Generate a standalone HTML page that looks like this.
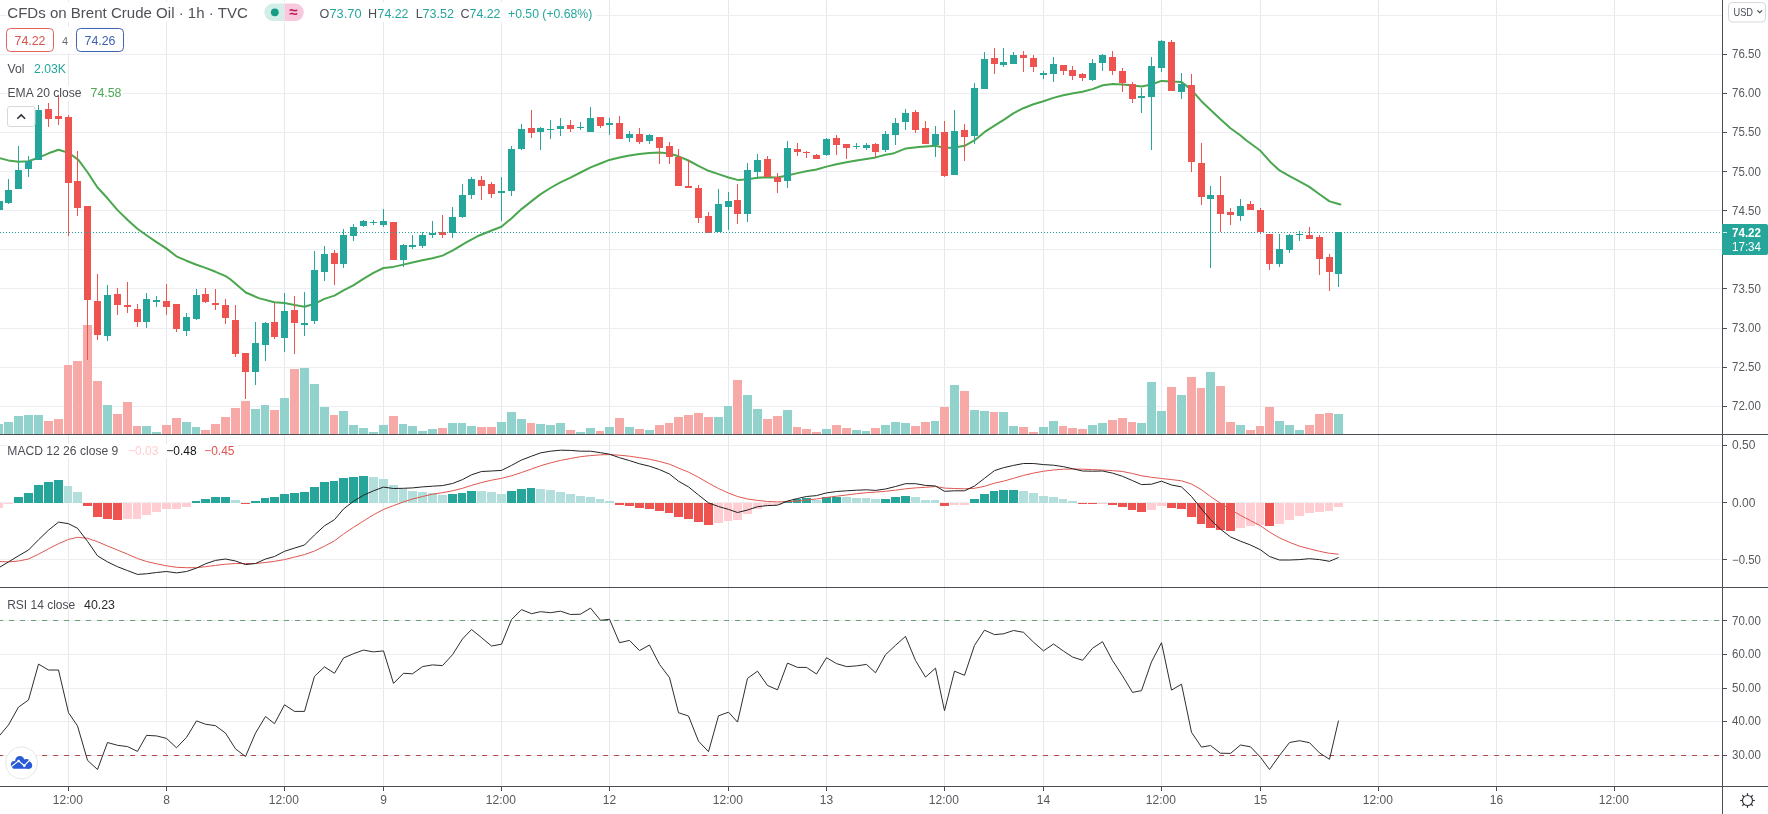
<!DOCTYPE html>
<html><head><meta charset="utf-8"><title>CFDs on Brent Crude Oil</title>
<style>html,body{margin:0;padding:0;background:#fff;width:1768px;height:814px;overflow:hidden}
svg{display:block;will-change:transform;font-family:"Liberation Sans",sans-serif}
rect{shape-rendering:crispEdges} rect[rx]{shape-rendering:geometricPrecision}</style></head>
<body><svg width="1768" height="814" viewBox="0 0 1768 814">
<rect x="0" y="0" width="1768" height="814" fill="#ffffff"/>
<rect x="68.00" y="0.00" width="1.00" height="786.00" fill="#e5e9ef"/>
<rect x="166.00" y="0.00" width="1.00" height="786.00" fill="#e5e9ef"/>
<rect x="284.00" y="0.00" width="1.00" height="786.00" fill="#e5e9ef"/>
<rect x="383.00" y="0.00" width="1.00" height="786.00" fill="#e5e9ef"/>
<rect x="501.00" y="0.00" width="1.00" height="786.00" fill="#e5e9ef"/>
<rect x="609.00" y="0.00" width="1.00" height="786.00" fill="#e5e9ef"/>
<rect x="728.00" y="0.00" width="1.00" height="786.00" fill="#e5e9ef"/>
<rect x="826.00" y="0.00" width="1.00" height="786.00" fill="#e5e9ef"/>
<rect x="944.00" y="0.00" width="1.00" height="786.00" fill="#e5e9ef"/>
<rect x="1043.00" y="0.00" width="1.00" height="786.00" fill="#e5e9ef"/>
<rect x="1161.00" y="0.00" width="1.00" height="786.00" fill="#e5e9ef"/>
<rect x="1260.00" y="0.00" width="1.00" height="786.00" fill="#e5e9ef"/>
<rect x="1378.00" y="0.00" width="1.00" height="786.00" fill="#e5e9ef"/>
<rect x="1496.00" y="0.00" width="1.00" height="786.00" fill="#e5e9ef"/>
<rect x="1614.00" y="0.00" width="1.00" height="786.00" fill="#e5e9ef"/>
<rect x="0.00" y="15.00" width="1722.00" height="1.00" fill="#edeef1"/>
<rect x="0.00" y="54.00" width="1722.00" height="1.00" fill="#edeef1"/>
<rect x="0.00" y="93.00" width="1722.00" height="1.00" fill="#edeef1"/>
<rect x="0.00" y="132.00" width="1722.00" height="1.00" fill="#edeef1"/>
<rect x="0.00" y="171.00" width="1722.00" height="1.00" fill="#edeef1"/>
<rect x="0.00" y="210.00" width="1722.00" height="1.00" fill="#edeef1"/>
<rect x="0.00" y="249.00" width="1722.00" height="1.00" fill="#edeef1"/>
<rect x="0.00" y="288.00" width="1722.00" height="1.00" fill="#edeef1"/>
<rect x="0.00" y="328.00" width="1722.00" height="1.00" fill="#edeef1"/>
<rect x="0.00" y="367.00" width="1722.00" height="1.00" fill="#edeef1"/>
<rect x="0.00" y="406.00" width="1722.00" height="1.00" fill="#edeef1"/>
<rect x="0.00" y="445.00" width="1722.00" height="1.00" fill="#edeef1"/>
<rect x="0.00" y="502.00" width="1722.00" height="1.00" fill="#edeef1"/>
<rect x="0.00" y="559.00" width="1722.00" height="1.00" fill="#edeef1"/>
<rect x="0.00" y="620.00" width="1722.00" height="1.00" fill="#edeef1"/>
<rect x="0.00" y="654.00" width="1722.00" height="1.00" fill="#edeef1"/>
<rect x="0.00" y="688.00" width="1722.00" height="1.00" fill="#edeef1"/>
<rect x="0.00" y="721.00" width="1722.00" height="1.00" fill="#edeef1"/>
<rect x="0.00" y="755.00" width="1722.00" height="1.00" fill="#edeef1"/>
<rect x="7.00" y="2.00" width="589.00" height="20.00" fill="#fff"/>
<rect x="6.00" y="27.00" width="119.00" height="26.00" fill="#fff"/>
<rect x="7.00" y="86.00" width="116.00" height="15.00" fill="#fff"/>
<rect x="7.00" y="444.00" width="231.00" height="14.00" fill="#fff"/>
<rect x="-5.00" y="423.50" width="8.00" height="10.50" fill="#92d2cc"/>
<rect x="4.00" y="422.00" width="9.00" height="12.00" fill="#92d2cc"/>
<rect x="14.00" y="416.00" width="9.00" height="18.00" fill="#92d2cc"/>
<rect x="24.00" y="414.50" width="9.00" height="19.50" fill="#92d2cc"/>
<rect x="34.00" y="414.50" width="9.00" height="19.50" fill="#92d2cc"/>
<rect x="44.00" y="421.00" width="9.00" height="13.00" fill="#f7a9a7"/>
<rect x="54.00" y="418.50" width="9.00" height="15.50" fill="#f7a9a7"/>
<rect x="64.00" y="364.50" width="8.00" height="69.50" fill="#f7a9a7"/>
<rect x="73.00" y="360.50" width="9.00" height="73.50" fill="#f7a9a7"/>
<rect x="83.00" y="324.50" width="9.00" height="109.50" fill="#f7a9a7"/>
<rect x="93.00" y="380.50" width="9.00" height="53.50" fill="#f7a9a7"/>
<rect x="103.00" y="404.50" width="9.00" height="29.50" fill="#92d2cc"/>
<rect x="113.00" y="413.50" width="9.00" height="20.50" fill="#f7a9a7"/>
<rect x="123.00" y="401.50" width="9.00" height="32.50" fill="#f7a9a7"/>
<rect x="133.00" y="425.50" width="8.00" height="8.50" fill="#f7a9a7"/>
<rect x="142.00" y="425.50" width="9.00" height="8.50" fill="#92d2cc"/>
<rect x="152.00" y="431.70" width="9.00" height="2.30" fill="#92d2cc"/>
<rect x="162.00" y="424.70" width="9.00" height="9.30" fill="#f7a9a7"/>
<rect x="172.00" y="417.50" width="9.00" height="16.50" fill="#f7a9a7"/>
<rect x="182.00" y="422.40" width="9.00" height="11.60" fill="#92d2cc"/>
<rect x="192.00" y="426.50" width="8.00" height="7.50" fill="#92d2cc"/>
<rect x="201.00" y="430.40" width="9.00" height="3.60" fill="#f7a9a7"/>
<rect x="211.00" y="424.40" width="9.00" height="9.60" fill="#f7a9a7"/>
<rect x="221.00" y="417.00" width="9.00" height="17.00" fill="#f7a9a7"/>
<rect x="231.00" y="408.00" width="9.00" height="26.00" fill="#f7a9a7"/>
<rect x="241.00" y="401.00" width="9.00" height="33.00" fill="#f7a9a7"/>
<rect x="251.00" y="409.00" width="9.00" height="25.00" fill="#92d2cc"/>
<rect x="261.00" y="405.00" width="8.00" height="29.00" fill="#92d2cc"/>
<rect x="270.00" y="410.00" width="9.00" height="24.00" fill="#f7a9a7"/>
<rect x="280.00" y="398.00" width="9.00" height="36.00" fill="#92d2cc"/>
<rect x="290.00" y="369.00" width="9.00" height="65.00" fill="#f7a9a7"/>
<rect x="300.00" y="368.00" width="9.00" height="66.00" fill="#92d2cc"/>
<rect x="310.00" y="384.00" width="9.00" height="50.00" fill="#92d2cc"/>
<rect x="320.00" y="407.00" width="9.00" height="27.00" fill="#92d2cc"/>
<rect x="330.00" y="415.00" width="8.00" height="19.00" fill="#f7a9a7"/>
<rect x="339.00" y="411.00" width="9.00" height="23.00" fill="#92d2cc"/>
<rect x="349.00" y="425.00" width="9.00" height="9.00" fill="#92d2cc"/>
<rect x="359.00" y="428.00" width="9.00" height="6.00" fill="#92d2cc"/>
<rect x="369.00" y="432.00" width="9.00" height="2.00" fill="#92d2cc"/>
<rect x="379.00" y="425.00" width="9.00" height="9.00" fill="#92d2cc"/>
<rect x="389.00" y="416.00" width="9.00" height="18.00" fill="#f7a9a7"/>
<rect x="399.00" y="424.00" width="8.00" height="10.00" fill="#92d2cc"/>
<rect x="408.00" y="426.00" width="9.00" height="8.00" fill="#92d2cc"/>
<rect x="418.00" y="431.00" width="9.00" height="3.00" fill="#92d2cc"/>
<rect x="428.00" y="429.00" width="9.00" height="5.00" fill="#92d2cc"/>
<rect x="438.00" y="428.00" width="9.00" height="6.00" fill="#f7a9a7"/>
<rect x="448.00" y="423.00" width="9.00" height="11.00" fill="#92d2cc"/>
<rect x="458.00" y="423.00" width="8.00" height="11.00" fill="#92d2cc"/>
<rect x="467.00" y="426.00" width="9.00" height="8.00" fill="#92d2cc"/>
<rect x="477.00" y="427.00" width="9.00" height="7.00" fill="#f7a9a7"/>
<rect x="487.00" y="427.00" width="9.00" height="7.00" fill="#f7a9a7"/>
<rect x="497.00" y="422.00" width="9.00" height="12.00" fill="#92d2cc"/>
<rect x="507.00" y="412.00" width="9.00" height="22.00" fill="#92d2cc"/>
<rect x="517.00" y="419.00" width="9.00" height="15.00" fill="#92d2cc"/>
<rect x="527.00" y="423.00" width="8.00" height="11.00" fill="#f7a9a7"/>
<rect x="536.00" y="424.00" width="9.00" height="10.00" fill="#92d2cc"/>
<rect x="546.00" y="425.00" width="9.00" height="9.00" fill="#92d2cc"/>
<rect x="556.00" y="423.00" width="9.00" height="11.00" fill="#92d2cc"/>
<rect x="566.00" y="430.00" width="9.00" height="4.00" fill="#f7a9a7"/>
<rect x="576.00" y="432.00" width="9.00" height="2.00" fill="#92d2cc"/>
<rect x="586.00" y="428.00" width="9.00" height="6.00" fill="#92d2cc"/>
<rect x="596.00" y="431.00" width="8.00" height="3.00" fill="#f7a9a7"/>
<rect x="605.00" y="427.00" width="9.00" height="7.00" fill="#92d2cc"/>
<rect x="615.00" y="418.00" width="9.00" height="16.00" fill="#f7a9a7"/>
<rect x="625.00" y="427.00" width="9.00" height="7.00" fill="#92d2cc"/>
<rect x="635.00" y="429.00" width="9.00" height="5.00" fill="#f7a9a7"/>
<rect x="645.00" y="430.00" width="9.00" height="4.00" fill="#92d2cc"/>
<rect x="655.00" y="425.00" width="9.00" height="9.00" fill="#f7a9a7"/>
<rect x="665.00" y="423.00" width="8.00" height="11.00" fill="#f7a9a7"/>
<rect x="674.00" y="417.00" width="9.00" height="17.00" fill="#f7a9a7"/>
<rect x="684.00" y="415.00" width="9.00" height="19.00" fill="#f7a9a7"/>
<rect x="694.00" y="413.00" width="9.00" height="21.00" fill="#f7a9a7"/>
<rect x="704.00" y="417.00" width="9.00" height="17.00" fill="#f7a9a7"/>
<rect x="714.00" y="417.00" width="9.00" height="17.00" fill="#92d2cc"/>
<rect x="724.00" y="406.00" width="8.00" height="28.00" fill="#92d2cc"/>
<rect x="733.00" y="380.00" width="9.00" height="54.00" fill="#f7a9a7"/>
<rect x="743.00" y="395.00" width="9.00" height="39.00" fill="#92d2cc"/>
<rect x="753.00" y="409.00" width="9.00" height="25.00" fill="#92d2cc"/>
<rect x="763.00" y="419.00" width="9.00" height="15.00" fill="#f7a9a7"/>
<rect x="773.00" y="416.00" width="9.00" height="18.00" fill="#f7a9a7"/>
<rect x="783.00" y="410.00" width="9.00" height="24.00" fill="#92d2cc"/>
<rect x="793.00" y="427.00" width="8.00" height="7.00" fill="#f7a9a7"/>
<rect x="802.00" y="429.00" width="9.00" height="5.00" fill="#f7a9a7"/>
<rect x="812.00" y="432.00" width="9.00" height="2.00" fill="#f7a9a7"/>
<rect x="822.00" y="429.00" width="9.00" height="5.00" fill="#92d2cc"/>
<rect x="832.00" y="425.00" width="9.00" height="9.00" fill="#f7a9a7"/>
<rect x="842.00" y="428.00" width="9.00" height="6.00" fill="#f7a9a7"/>
<rect x="852.00" y="430.00" width="9.00" height="4.00" fill="#92d2cc"/>
<rect x="862.00" y="431.00" width="8.00" height="3.00" fill="#92d2cc"/>
<rect x="871.00" y="428.00" width="9.00" height="6.00" fill="#f7a9a7"/>
<rect x="881.00" y="425.00" width="9.00" height="9.00" fill="#92d2cc"/>
<rect x="891.00" y="422.00" width="9.00" height="12.00" fill="#92d2cc"/>
<rect x="901.00" y="423.00" width="9.00" height="11.00" fill="#92d2cc"/>
<rect x="911.00" y="426.00" width="9.00" height="8.00" fill="#f7a9a7"/>
<rect x="921.00" y="422.00" width="9.00" height="12.00" fill="#f7a9a7"/>
<rect x="931.00" y="421.00" width="8.00" height="13.00" fill="#92d2cc"/>
<rect x="940.00" y="407.00" width="9.00" height="27.00" fill="#f7a9a7"/>
<rect x="950.00" y="385.00" width="9.00" height="49.00" fill="#92d2cc"/>
<rect x="960.00" y="391.00" width="9.00" height="43.00" fill="#f7a9a7"/>
<rect x="970.00" y="410.00" width="9.00" height="24.00" fill="#92d2cc"/>
<rect x="980.00" y="411.00" width="9.00" height="23.00" fill="#92d2cc"/>
<rect x="990.00" y="412.00" width="8.00" height="22.00" fill="#f7a9a7"/>
<rect x="999.00" y="412.00" width="9.00" height="22.00" fill="#92d2cc"/>
<rect x="1009.00" y="426.00" width="9.00" height="8.00" fill="#92d2cc"/>
<rect x="1019.00" y="427.00" width="9.00" height="7.00" fill="#f7a9a7"/>
<rect x="1029.00" y="432.00" width="9.00" height="2.00" fill="#f7a9a7"/>
<rect x="1039.00" y="427.00" width="9.00" height="7.00" fill="#92d2cc"/>
<rect x="1049.00" y="421.00" width="9.00" height="13.00" fill="#92d2cc"/>
<rect x="1059.00" y="426.00" width="8.00" height="8.00" fill="#f7a9a7"/>
<rect x="1068.00" y="428.00" width="9.00" height="6.00" fill="#f7a9a7"/>
<rect x="1078.00" y="429.00" width="9.00" height="5.00" fill="#f7a9a7"/>
<rect x="1088.00" y="425.00" width="9.00" height="9.00" fill="#92d2cc"/>
<rect x="1098.00" y="423.00" width="9.00" height="11.00" fill="#92d2cc"/>
<rect x="1108.00" y="420.00" width="9.00" height="14.00" fill="#f7a9a7"/>
<rect x="1118.00" y="418.00" width="9.00" height="16.00" fill="#f7a9a7"/>
<rect x="1128.00" y="422.00" width="8.00" height="12.00" fill="#f7a9a7"/>
<rect x="1137.00" y="423.00" width="9.00" height="11.00" fill="#92d2cc"/>
<rect x="1147.00" y="382.00" width="9.00" height="52.00" fill="#92d2cc"/>
<rect x="1157.00" y="411.00" width="9.00" height="23.00" fill="#92d2cc"/>
<rect x="1167.00" y="387.00" width="9.00" height="47.00" fill="#f7a9a7"/>
<rect x="1177.00" y="395.00" width="9.00" height="39.00" fill="#92d2cc"/>
<rect x="1187.00" y="377.00" width="9.00" height="57.00" fill="#f7a9a7"/>
<rect x="1197.00" y="388.00" width="8.00" height="46.00" fill="#f7a9a7"/>
<rect x="1206.00" y="372.00" width="9.00" height="62.00" fill="#92d2cc"/>
<rect x="1216.00" y="386.00" width="9.00" height="48.00" fill="#f7a9a7"/>
<rect x="1226.00" y="422.00" width="9.00" height="12.00" fill="#f7a9a7"/>
<rect x="1236.00" y="425.00" width="9.00" height="9.00" fill="#92d2cc"/>
<rect x="1246.00" y="430.00" width="9.00" height="4.00" fill="#f7a9a7"/>
<rect x="1256.00" y="426.00" width="8.00" height="8.00" fill="#f7a9a7"/>
<rect x="1265.00" y="407.00" width="9.00" height="27.00" fill="#f7a9a7"/>
<rect x="1275.00" y="421.00" width="9.00" height="13.00" fill="#92d2cc"/>
<rect x="1285.00" y="425.00" width="9.00" height="9.00" fill="#92d2cc"/>
<rect x="1295.00" y="430.00" width="9.00" height="4.00" fill="#92d2cc"/>
<rect x="1305.00" y="425.00" width="9.00" height="9.00" fill="#f7a9a7"/>
<rect x="1315.00" y="414.00" width="9.00" height="20.00" fill="#f7a9a7"/>
<rect x="1325.00" y="413.00" width="8.00" height="21.00" fill="#f7a9a7"/>
<rect x="1334.00" y="414.00" width="9.00" height="20.00" fill="#92d2cc"/>
<polyline fill="none" stroke="#4aa74e" stroke-width="2" stroke-linejoin="round" stroke-linecap="round" points="-2.1,157.6 8.3,160.4 18.6,161.8 28.5,161.2 38.4,157.6 48.6,153.3 58.5,149.7 68.5,152.7 78.4,159.9 87.7,172.5 97.5,187.5 107.5,198.3 117.3,209.9 127.4,219.7 137.4,228.7 146.5,235.2 156.5,242.1 166.6,248.6 176.4,256.3 186.4,260.7 196.5,264.8 205.5,267.9 215.6,271.8 225.6,276.2 230.0,279.0 245.8,292.5 258.7,298.1 274.4,302.3 284.5,303.0 294.5,305.1 304.6,306.7 314.4,303.8 324.4,298.9 334.5,295.6 343.5,290.4 353.3,285.3 363.4,278.8 373.4,272.9 383.5,268.0 393.3,266.9 403.3,264.6 412.4,262.6 422.4,260.2 432.5,258.2 442.5,255.6 452.9,250.4 465.8,242.7 478.7,235.7 491.6,230.5 501.4,226.7 511.4,218.4 521.5,209.1 531.3,201.4 540.3,194.4 550.4,188.0 560.4,182.3 570.5,177.7 580.5,172.5 590.6,167.4 600.4,163.5 609.4,159.9 619.5,157.6 629.5,155.5 639.6,154.0 649.4,152.9 659.4,152.4 669.3,153.5 678.6,156.3 688.4,160.5 698.4,165.9 708.5,170.8 718.5,174.1 728.6,177.5 738.4,180.1 747.7,179.3 757.5,177.7 767.5,177.2 777.3,177.5 787.4,175.4 797.4,173.1 807.5,171.0 816.5,169.5 826.6,166.6 836.4,164.3 846.4,162.3 856.5,160.5 866.3,158.9 875.6,157.4 885.6,154.8 892.9,153.6 905.8,148.4 918.7,146.9 935.4,145.8 944.5,147.9 954.5,147.4 964.6,145.8 974.4,140.4 984.4,132.2 994.5,125.7 1004.5,119.3 1013.3,113.3 1023.4,108.2 1033.4,104.3 1043.5,101.2 1053.3,97.9 1063.3,95.3 1073.4,93.2 1082.4,91.7 1092.5,89.1 1102.9,85.2 1112.7,84.0 1122.5,84.5 1132.5,85.5 1141.6,86.5 1151.4,84.5 1161.4,80.9 1171.5,81.4 1181.3,81.9 1191.3,89.6 1201.4,101.2 1210.4,109.7 1220.5,119.3 1230.5,128.3 1240.6,135.5 1245.8,140.0 1260.5,150.8 1270.3,161.9 1279.5,170.4 1289.6,176.1 1299.4,181.3 1309.4,186.9 1319.5,194.2 1329.6,201.4 1336.0,203.2 1340.4,204.5"/>
<rect x="-1.00" y="201.00" width="1.00" height="9.00" fill="#26a69a"/>
<rect x="-4.00" y="201.00" width="7.00" height="9.00" fill="#26a69a"/>
<rect x="8.00" y="179.00" width="1.00" height="25.00" fill="#26a69a"/>
<rect x="5.00" y="190.00" width="7.00" height="13.00" fill="#26a69a"/>
<rect x="18.00" y="146.00" width="1.00" height="43.00" fill="#26a69a"/>
<rect x="15.00" y="170.00" width="7.00" height="19.00" fill="#26a69a"/>
<rect x="28.00" y="156.00" width="1.00" height="21.00" fill="#26a69a"/>
<rect x="25.00" y="161.00" width="7.00" height="8.00" fill="#26a69a"/>
<rect x="38.00" y="105.00" width="1.00" height="55.00" fill="#26a69a"/>
<rect x="35.00" y="110.00" width="7.00" height="50.00" fill="#26a69a"/>
<rect x="48.00" y="103.00" width="1.00" height="24.00" fill="#ef5350"/>
<rect x="45.00" y="109.00" width="7.00" height="10.00" fill="#ef5350"/>
<rect x="58.00" y="96.00" width="1.00" height="29.00" fill="#ef5350"/>
<rect x="55.00" y="116.00" width="7.00" height="3.00" fill="#ef5350"/>
<rect x="68.00" y="115.00" width="1.00" height="121.00" fill="#ef5350"/>
<rect x="65.00" y="117.00" width="7.00" height="66.00" fill="#ef5350"/>
<rect x="77.00" y="151.00" width="1.00" height="65.00" fill="#ef5350"/>
<rect x="74.00" y="181.00" width="7.00" height="27.00" fill="#ef5350"/>
<rect x="87.00" y="206.00" width="1.00" height="154.00" fill="#ef5350"/>
<rect x="84.00" y="206.00" width="7.00" height="94.00" fill="#ef5350"/>
<rect x="97.00" y="274.00" width="1.00" height="66.00" fill="#ef5350"/>
<rect x="94.00" y="301.00" width="7.00" height="34.00" fill="#ef5350"/>
<rect x="107.00" y="285.00" width="1.00" height="56.00" fill="#26a69a"/>
<rect x="104.00" y="295.00" width="7.00" height="41.00" fill="#26a69a"/>
<rect x="117.00" y="288.00" width="1.00" height="27.00" fill="#ef5350"/>
<rect x="114.00" y="294.00" width="7.00" height="11.00" fill="#ef5350"/>
<rect x="127.00" y="282.00" width="1.00" height="31.00" fill="#ef5350"/>
<rect x="124.00" y="305.00" width="7.00" height="2.00" fill="#ef5350"/>
<rect x="137.00" y="304.00" width="1.00" height="23.00" fill="#ef5350"/>
<rect x="134.00" y="309.00" width="7.00" height="13.00" fill="#ef5350"/>
<rect x="146.00" y="293.00" width="1.00" height="35.00" fill="#26a69a"/>
<rect x="143.00" y="299.00" width="7.00" height="23.00" fill="#26a69a"/>
<rect x="156.00" y="296.00" width="1.00" height="11.00" fill="#26a69a"/>
<rect x="153.00" y="300.00" width="7.00" height="2.00" fill="#26a69a"/>
<rect x="166.00" y="284.00" width="1.00" height="31.00" fill="#ef5350"/>
<rect x="163.00" y="301.00" width="7.00" height="6.00" fill="#ef5350"/>
<rect x="176.00" y="304.00" width="1.00" height="28.00" fill="#ef5350"/>
<rect x="173.00" y="304.00" width="7.00" height="25.00" fill="#ef5350"/>
<rect x="186.00" y="313.00" width="1.00" height="23.00" fill="#26a69a"/>
<rect x="183.00" y="317.00" width="7.00" height="14.00" fill="#26a69a"/>
<rect x="196.00" y="289.00" width="1.00" height="31.00" fill="#26a69a"/>
<rect x="193.00" y="295.00" width="7.00" height="24.00" fill="#26a69a"/>
<rect x="205.00" y="288.00" width="1.00" height="15.00" fill="#ef5350"/>
<rect x="202.00" y="294.00" width="7.00" height="8.00" fill="#ef5350"/>
<rect x="215.00" y="289.00" width="1.00" height="21.00" fill="#ef5350"/>
<rect x="212.00" y="303.00" width="7.00" height="2.00" fill="#ef5350"/>
<rect x="225.00" y="299.00" width="1.00" height="25.00" fill="#ef5350"/>
<rect x="222.00" y="305.00" width="7.00" height="13.00" fill="#ef5350"/>
<rect x="235.00" y="305.00" width="1.00" height="52.00" fill="#ef5350"/>
<rect x="232.00" y="320.00" width="7.00" height="34.00" fill="#ef5350"/>
<rect x="245.00" y="353.00" width="1.00" height="46.00" fill="#ef5350"/>
<rect x="242.00" y="353.00" width="7.00" height="19.00" fill="#ef5350"/>
<rect x="255.00" y="322.00" width="1.00" height="63.00" fill="#26a69a"/>
<rect x="252.00" y="343.00" width="7.00" height="29.00" fill="#26a69a"/>
<rect x="265.00" y="322.00" width="1.00" height="39.00" fill="#26a69a"/>
<rect x="262.00" y="323.00" width="7.00" height="22.00" fill="#26a69a"/>
<rect x="274.00" y="303.00" width="1.00" height="36.00" fill="#ef5350"/>
<rect x="271.00" y="322.00" width="7.00" height="15.00" fill="#ef5350"/>
<rect x="284.00" y="293.00" width="1.00" height="59.00" fill="#26a69a"/>
<rect x="281.00" y="311.00" width="7.00" height="27.00" fill="#26a69a"/>
<rect x="294.00" y="296.00" width="1.00" height="58.00" fill="#ef5350"/>
<rect x="291.00" y="310.00" width="7.00" height="13.00" fill="#ef5350"/>
<rect x="304.00" y="292.00" width="1.00" height="44.00" fill="#26a69a"/>
<rect x="301.00" y="323.00" width="7.00" height="2.00" fill="#26a69a"/>
<rect x="314.00" y="251.00" width="1.00" height="73.00" fill="#26a69a"/>
<rect x="311.00" y="270.00" width="7.00" height="51.00" fill="#26a69a"/>
<rect x="324.00" y="246.00" width="1.00" height="35.00" fill="#26a69a"/>
<rect x="321.00" y="254.00" width="7.00" height="18.00" fill="#26a69a"/>
<rect x="334.00" y="250.00" width="1.00" height="35.00" fill="#ef5350"/>
<rect x="331.00" y="253.00" width="7.00" height="11.00" fill="#ef5350"/>
<rect x="343.00" y="229.00" width="1.00" height="39.00" fill="#26a69a"/>
<rect x="340.00" y="235.00" width="7.00" height="29.00" fill="#26a69a"/>
<rect x="353.00" y="224.00" width="1.00" height="17.00" fill="#26a69a"/>
<rect x="350.00" y="227.00" width="7.00" height="9.00" fill="#26a69a"/>
<rect x="363.00" y="220.00" width="1.00" height="7.00" fill="#26a69a"/>
<rect x="360.00" y="221.00" width="7.00" height="5.00" fill="#26a69a"/>
<rect x="373.00" y="220.00" width="1.00" height="5.00" fill="#26a69a"/>
<rect x="370.00" y="222.00" width="7.00" height="1.00" fill="#26a69a"/>
<rect x="383.00" y="209.00" width="1.00" height="18.00" fill="#26a69a"/>
<rect x="380.00" y="221.00" width="7.00" height="4.00" fill="#26a69a"/>
<rect x="393.00" y="222.00" width="1.00" height="38.00" fill="#ef5350"/>
<rect x="390.00" y="222.00" width="7.00" height="38.00" fill="#ef5350"/>
<rect x="403.00" y="244.00" width="1.00" height="23.00" fill="#26a69a"/>
<rect x="400.00" y="245.00" width="7.00" height="15.00" fill="#26a69a"/>
<rect x="412.00" y="235.00" width="1.00" height="14.00" fill="#26a69a"/>
<rect x="409.00" y="245.00" width="7.00" height="2.00" fill="#26a69a"/>
<rect x="422.00" y="232.00" width="1.00" height="16.00" fill="#26a69a"/>
<rect x="419.00" y="235.00" width="7.00" height="11.00" fill="#26a69a"/>
<rect x="432.00" y="221.00" width="1.00" height="17.00" fill="#26a69a"/>
<rect x="429.00" y="233.00" width="7.00" height="2.00" fill="#26a69a"/>
<rect x="442.00" y="215.00" width="1.00" height="23.00" fill="#ef5350"/>
<rect x="439.00" y="232.00" width="7.00" height="3.00" fill="#ef5350"/>
<rect x="452.00" y="207.00" width="1.00" height="31.00" fill="#26a69a"/>
<rect x="449.00" y="217.00" width="7.00" height="16.00" fill="#26a69a"/>
<rect x="462.00" y="184.00" width="1.00" height="34.00" fill="#26a69a"/>
<rect x="459.00" y="195.00" width="7.00" height="22.00" fill="#26a69a"/>
<rect x="471.00" y="177.00" width="1.00" height="22.00" fill="#26a69a"/>
<rect x="468.00" y="179.00" width="7.00" height="16.00" fill="#26a69a"/>
<rect x="481.00" y="176.00" width="1.00" height="24.00" fill="#ef5350"/>
<rect x="478.00" y="180.00" width="7.00" height="6.00" fill="#ef5350"/>
<rect x="491.00" y="182.00" width="1.00" height="16.00" fill="#ef5350"/>
<rect x="488.00" y="184.00" width="7.00" height="10.00" fill="#ef5350"/>
<rect x="501.00" y="177.00" width="1.00" height="44.00" fill="#26a69a"/>
<rect x="498.00" y="191.00" width="7.00" height="2.00" fill="#26a69a"/>
<rect x="511.00" y="146.00" width="1.00" height="50.00" fill="#26a69a"/>
<rect x="508.00" y="149.00" width="7.00" height="42.00" fill="#26a69a"/>
<rect x="521.00" y="124.00" width="1.00" height="26.00" fill="#26a69a"/>
<rect x="518.00" y="129.00" width="7.00" height="20.00" fill="#26a69a"/>
<rect x="531.00" y="110.00" width="1.00" height="28.00" fill="#ef5350"/>
<rect x="528.00" y="128.00" width="7.00" height="5.00" fill="#ef5350"/>
<rect x="540.00" y="127.00" width="1.00" height="23.00" fill="#26a69a"/>
<rect x="537.00" y="128.00" width="7.00" height="4.00" fill="#26a69a"/>
<rect x="550.00" y="120.00" width="1.00" height="19.00" fill="#26a69a"/>
<rect x="547.00" y="129.00" width="7.00" height="1.00" fill="#26a69a"/>
<rect x="560.00" y="118.00" width="1.00" height="18.00" fill="#26a69a"/>
<rect x="557.00" y="126.00" width="7.00" height="3.00" fill="#26a69a"/>
<rect x="570.00" y="120.00" width="1.00" height="12.00" fill="#ef5350"/>
<rect x="567.00" y="125.00" width="7.00" height="4.00" fill="#ef5350"/>
<rect x="580.00" y="122.00" width="1.00" height="8.00" fill="#26a69a"/>
<rect x="577.00" y="127.00" width="7.00" height="1.00" fill="#26a69a"/>
<rect x="590.00" y="107.00" width="1.00" height="25.00" fill="#26a69a"/>
<rect x="587.00" y="118.00" width="7.00" height="14.00" fill="#26a69a"/>
<rect x="600.00" y="117.00" width="1.00" height="11.00" fill="#ef5350"/>
<rect x="597.00" y="117.00" width="7.00" height="9.00" fill="#ef5350"/>
<rect x="609.00" y="118.00" width="1.00" height="17.00" fill="#26a69a"/>
<rect x="606.00" y="123.00" width="7.00" height="2.00" fill="#26a69a"/>
<rect x="619.00" y="116.00" width="1.00" height="23.00" fill="#ef5350"/>
<rect x="616.00" y="123.00" width="7.00" height="16.00" fill="#ef5350"/>
<rect x="629.00" y="131.00" width="1.00" height="11.00" fill="#26a69a"/>
<rect x="626.00" y="134.00" width="7.00" height="4.00" fill="#26a69a"/>
<rect x="639.00" y="128.00" width="1.00" height="16.00" fill="#ef5350"/>
<rect x="636.00" y="134.00" width="7.00" height="8.00" fill="#ef5350"/>
<rect x="649.00" y="134.00" width="1.00" height="10.00" fill="#26a69a"/>
<rect x="646.00" y="135.00" width="7.00" height="6.00" fill="#26a69a"/>
<rect x="659.00" y="137.00" width="1.00" height="27.00" fill="#ef5350"/>
<rect x="656.00" y="137.00" width="7.00" height="11.00" fill="#ef5350"/>
<rect x="669.00" y="142.00" width="1.00" height="22.00" fill="#ef5350"/>
<rect x="666.00" y="146.00" width="7.00" height="11.00" fill="#ef5350"/>
<rect x="678.00" y="149.00" width="1.00" height="37.00" fill="#ef5350"/>
<rect x="675.00" y="157.00" width="7.00" height="29.00" fill="#ef5350"/>
<rect x="688.00" y="160.00" width="1.00" height="28.00" fill="#ef5350"/>
<rect x="685.00" y="186.00" width="7.00" height="2.00" fill="#ef5350"/>
<rect x="698.00" y="185.00" width="1.00" height="38.00" fill="#ef5350"/>
<rect x="695.00" y="188.00" width="7.00" height="30.00" fill="#ef5350"/>
<rect x="708.00" y="212.00" width="1.00" height="21.00" fill="#ef5350"/>
<rect x="705.00" y="216.00" width="7.00" height="17.00" fill="#ef5350"/>
<rect x="718.00" y="189.00" width="1.00" height="43.00" fill="#26a69a"/>
<rect x="715.00" y="204.00" width="7.00" height="28.00" fill="#26a69a"/>
<rect x="728.00" y="192.00" width="1.00" height="38.00" fill="#26a69a"/>
<rect x="725.00" y="201.00" width="7.00" height="6.00" fill="#26a69a"/>
<rect x="737.00" y="184.00" width="1.00" height="40.00" fill="#ef5350"/>
<rect x="734.00" y="200.00" width="7.00" height="14.00" fill="#ef5350"/>
<rect x="747.00" y="163.00" width="1.00" height="59.00" fill="#26a69a"/>
<rect x="744.00" y="170.00" width="7.00" height="44.00" fill="#26a69a"/>
<rect x="757.00" y="154.00" width="1.00" height="25.00" fill="#26a69a"/>
<rect x="754.00" y="160.00" width="7.00" height="12.00" fill="#26a69a"/>
<rect x="767.00" y="156.00" width="1.00" height="21.00" fill="#ef5350"/>
<rect x="764.00" y="159.00" width="7.00" height="18.00" fill="#ef5350"/>
<rect x="777.00" y="173.00" width="1.00" height="20.00" fill="#ef5350"/>
<rect x="774.00" y="177.00" width="7.00" height="5.00" fill="#ef5350"/>
<rect x="787.00" y="141.00" width="1.00" height="47.00" fill="#26a69a"/>
<rect x="784.00" y="148.00" width="7.00" height="33.00" fill="#26a69a"/>
<rect x="797.00" y="143.00" width="1.00" height="13.00" fill="#ef5350"/>
<rect x="794.00" y="149.00" width="7.00" height="3.00" fill="#ef5350"/>
<rect x="806.00" y="151.00" width="1.00" height="7.00" fill="#ef5350"/>
<rect x="803.00" y="152.00" width="7.00" height="1.00" fill="#ef5350"/>
<rect x="816.00" y="154.00" width="1.00" height="5.00" fill="#ef5350"/>
<rect x="813.00" y="155.00" width="7.00" height="4.00" fill="#ef5350"/>
<rect x="826.00" y="138.00" width="1.00" height="18.00" fill="#26a69a"/>
<rect x="823.00" y="139.00" width="7.00" height="16.00" fill="#26a69a"/>
<rect x="836.00" y="135.00" width="1.00" height="20.00" fill="#ef5350"/>
<rect x="833.00" y="138.00" width="7.00" height="7.00" fill="#ef5350"/>
<rect x="846.00" y="144.00" width="1.00" height="15.00" fill="#ef5350"/>
<rect x="843.00" y="144.00" width="7.00" height="4.00" fill="#ef5350"/>
<rect x="856.00" y="143.00" width="1.00" height="6.00" fill="#26a69a"/>
<rect x="853.00" y="146.00" width="7.00" height="1.00" fill="#26a69a"/>
<rect x="866.00" y="143.00" width="1.00" height="7.00" fill="#26a69a"/>
<rect x="863.00" y="145.00" width="7.00" height="3.00" fill="#26a69a"/>
<rect x="875.00" y="143.00" width="1.00" height="14.00" fill="#ef5350"/>
<rect x="872.00" y="144.00" width="7.00" height="8.00" fill="#ef5350"/>
<rect x="885.00" y="131.00" width="1.00" height="21.00" fill="#26a69a"/>
<rect x="882.00" y="134.00" width="7.00" height="16.00" fill="#26a69a"/>
<rect x="895.00" y="118.00" width="1.00" height="27.00" fill="#26a69a"/>
<rect x="892.00" y="123.00" width="7.00" height="12.00" fill="#26a69a"/>
<rect x="905.00" y="109.00" width="1.00" height="21.00" fill="#26a69a"/>
<rect x="902.00" y="113.00" width="7.00" height="9.00" fill="#26a69a"/>
<rect x="915.00" y="110.00" width="1.00" height="23.00" fill="#ef5350"/>
<rect x="912.00" y="112.00" width="7.00" height="18.00" fill="#ef5350"/>
<rect x="925.00" y="121.00" width="1.00" height="23.00" fill="#ef5350"/>
<rect x="922.00" y="128.00" width="7.00" height="16.00" fill="#ef5350"/>
<rect x="935.00" y="126.00" width="1.00" height="31.00" fill="#26a69a"/>
<rect x="932.00" y="134.00" width="7.00" height="11.00" fill="#26a69a"/>
<rect x="944.00" y="121.00" width="1.00" height="56.00" fill="#ef5350"/>
<rect x="941.00" y="132.00" width="7.00" height="44.00" fill="#ef5350"/>
<rect x="954.00" y="110.00" width="1.00" height="65.00" fill="#26a69a"/>
<rect x="951.00" y="131.00" width="7.00" height="44.00" fill="#26a69a"/>
<rect x="964.00" y="124.00" width="1.00" height="37.00" fill="#ef5350"/>
<rect x="961.00" y="130.00" width="7.00" height="7.00" fill="#ef5350"/>
<rect x="974.00" y="83.00" width="1.00" height="61.00" fill="#26a69a"/>
<rect x="971.00" y="88.00" width="7.00" height="48.00" fill="#26a69a"/>
<rect x="984.00" y="52.00" width="1.00" height="37.00" fill="#26a69a"/>
<rect x="981.00" y="59.00" width="7.00" height="30.00" fill="#26a69a"/>
<rect x="994.00" y="48.00" width="1.00" height="26.00" fill="#ef5350"/>
<rect x="991.00" y="58.00" width="7.00" height="6.00" fill="#ef5350"/>
<rect x="1003.00" y="48.00" width="1.00" height="19.00" fill="#26a69a"/>
<rect x="1000.00" y="62.00" width="7.00" height="3.00" fill="#26a69a"/>
<rect x="1013.00" y="52.00" width="1.00" height="12.00" fill="#26a69a"/>
<rect x="1010.00" y="55.00" width="7.00" height="9.00" fill="#26a69a"/>
<rect x="1023.00" y="51.00" width="1.00" height="21.00" fill="#ef5350"/>
<rect x="1020.00" y="55.00" width="7.00" height="3.00" fill="#ef5350"/>
<rect x="1033.00" y="55.00" width="1.00" height="17.00" fill="#ef5350"/>
<rect x="1030.00" y="58.00" width="7.00" height="9.00" fill="#ef5350"/>
<rect x="1043.00" y="71.00" width="1.00" height="8.00" fill="#26a69a"/>
<rect x="1040.00" y="73.00" width="7.00" height="2.00" fill="#26a69a"/>
<rect x="1053.00" y="57.00" width="1.00" height="25.00" fill="#26a69a"/>
<rect x="1050.00" y="64.00" width="7.00" height="10.00" fill="#26a69a"/>
<rect x="1063.00" y="65.00" width="1.00" height="10.00" fill="#ef5350"/>
<rect x="1060.00" y="65.00" width="7.00" height="6.00" fill="#ef5350"/>
<rect x="1072.00" y="66.00" width="1.00" height="14.00" fill="#ef5350"/>
<rect x="1069.00" y="70.00" width="7.00" height="6.00" fill="#ef5350"/>
<rect x="1082.00" y="73.00" width="1.00" height="8.00" fill="#ef5350"/>
<rect x="1079.00" y="74.00" width="7.00" height="4.00" fill="#ef5350"/>
<rect x="1092.00" y="59.00" width="1.00" height="22.00" fill="#26a69a"/>
<rect x="1089.00" y="63.00" width="7.00" height="17.00" fill="#26a69a"/>
<rect x="1102.00" y="54.00" width="1.00" height="17.00" fill="#26a69a"/>
<rect x="1099.00" y="55.00" width="7.00" height="8.00" fill="#26a69a"/>
<rect x="1112.00" y="51.00" width="1.00" height="24.00" fill="#ef5350"/>
<rect x="1109.00" y="57.00" width="7.00" height="14.00" fill="#ef5350"/>
<rect x="1122.00" y="68.00" width="1.00" height="24.00" fill="#ef5350"/>
<rect x="1119.00" y="71.00" width="7.00" height="12.00" fill="#ef5350"/>
<rect x="1132.00" y="82.00" width="1.00" height="21.00" fill="#ef5350"/>
<rect x="1129.00" y="84.00" width="7.00" height="15.00" fill="#ef5350"/>
<rect x="1141.00" y="88.00" width="1.00" height="25.00" fill="#26a69a"/>
<rect x="1138.00" y="96.00" width="7.00" height="2.00" fill="#26a69a"/>
<rect x="1151.00" y="57.00" width="1.00" height="93.00" fill="#26a69a"/>
<rect x="1148.00" y="66.00" width="7.00" height="31.00" fill="#26a69a"/>
<rect x="1161.00" y="40.00" width="1.00" height="32.00" fill="#26a69a"/>
<rect x="1158.00" y="41.00" width="7.00" height="27.00" fill="#26a69a"/>
<rect x="1171.00" y="40.00" width="1.00" height="51.00" fill="#ef5350"/>
<rect x="1168.00" y="42.00" width="7.00" height="49.00" fill="#ef5350"/>
<rect x="1181.00" y="73.00" width="1.00" height="26.00" fill="#26a69a"/>
<rect x="1178.00" y="84.00" width="7.00" height="8.00" fill="#26a69a"/>
<rect x="1191.00" y="74.00" width="1.00" height="98.00" fill="#ef5350"/>
<rect x="1188.00" y="85.00" width="7.00" height="77.00" fill="#ef5350"/>
<rect x="1201.00" y="143.00" width="1.00" height="62.00" fill="#ef5350"/>
<rect x="1198.00" y="163.00" width="7.00" height="34.00" fill="#ef5350"/>
<rect x="1210.00" y="186.00" width="1.00" height="82.00" fill="#26a69a"/>
<rect x="1207.00" y="195.00" width="7.00" height="4.00" fill="#26a69a"/>
<rect x="1220.00" y="176.00" width="1.00" height="56.00" fill="#ef5350"/>
<rect x="1217.00" y="195.00" width="7.00" height="19.00" fill="#ef5350"/>
<rect x="1230.00" y="208.00" width="1.00" height="17.00" fill="#ef5350"/>
<rect x="1227.00" y="212.00" width="7.00" height="3.00" fill="#ef5350"/>
<rect x="1240.00" y="199.00" width="1.00" height="22.00" fill="#26a69a"/>
<rect x="1237.00" y="206.00" width="7.00" height="10.00" fill="#26a69a"/>
<rect x="1250.00" y="201.00" width="1.00" height="9.00" fill="#ef5350"/>
<rect x="1247.00" y="204.00" width="7.00" height="6.00" fill="#ef5350"/>
<rect x="1260.00" y="208.00" width="1.00" height="26.00" fill="#ef5350"/>
<rect x="1257.00" y="210.00" width="7.00" height="22.00" fill="#ef5350"/>
<rect x="1269.00" y="234.00" width="1.00" height="36.00" fill="#ef5350"/>
<rect x="1266.00" y="234.00" width="7.00" height="30.00" fill="#ef5350"/>
<rect x="1279.00" y="234.00" width="1.00" height="33.00" fill="#26a69a"/>
<rect x="1276.00" y="249.00" width="7.00" height="15.00" fill="#26a69a"/>
<rect x="1289.00" y="234.00" width="1.00" height="19.00" fill="#26a69a"/>
<rect x="1286.00" y="235.00" width="7.00" height="15.00" fill="#26a69a"/>
<rect x="1299.00" y="231.00" width="1.00" height="10.00" fill="#26a69a"/>
<rect x="1296.00" y="234.00" width="7.00" height="1.00" fill="#26a69a"/>
<rect x="1309.00" y="227.00" width="1.00" height="12.00" fill="#ef5350"/>
<rect x="1306.00" y="235.00" width="7.00" height="4.00" fill="#ef5350"/>
<rect x="1319.00" y="235.00" width="1.00" height="40.00" fill="#ef5350"/>
<rect x="1316.00" y="237.00" width="7.00" height="22.00" fill="#ef5350"/>
<rect x="1329.00" y="254.00" width="1.00" height="37.00" fill="#ef5350"/>
<rect x="1326.00" y="257.00" width="7.00" height="15.00" fill="#ef5350"/>
<rect x="1338.00" y="232.00" width="1.00" height="55.00" fill="#26a69a"/>
<rect x="1335.00" y="232.00" width="7.00" height="42.00" fill="#26a69a"/>
<line x1="0" y1="232.5" x2="1722" y2="232.5" stroke="#26a69a" stroke-width="1" stroke-dasharray="1 2"/>
<rect x="-5.00" y="503.00" width="8.00" height="5.00" fill="#ffcdd2"/>
<rect x="4.00" y="503.00" width="9.00" height="1.00" fill="#ffcdd2"/>
<rect x="14.00" y="497.00" width="9.00" height="6.00" fill="#26a69a"/>
<rect x="24.00" y="493.00" width="9.00" height="10.00" fill="#26a69a"/>
<rect x="34.00" y="485.00" width="9.00" height="18.00" fill="#26a69a"/>
<rect x="44.00" y="482.00" width="9.00" height="21.00" fill="#26a69a"/>
<rect x="54.00" y="480.00" width="9.00" height="23.00" fill="#26a69a"/>
<rect x="64.00" y="486.00" width="8.00" height="17.00" fill="#b2dfdb"/>
<rect x="73.00" y="492.00" width="9.00" height="11.00" fill="#b2dfdb"/>
<rect x="83.00" y="503.00" width="9.00" height="3.00" fill="#ef5350"/>
<rect x="93.00" y="503.00" width="9.00" height="14.00" fill="#ef5350"/>
<rect x="103.00" y="503.00" width="9.00" height="16.00" fill="#ef5350"/>
<rect x="113.00" y="503.00" width="9.00" height="17.00" fill="#ef5350"/>
<rect x="123.00" y="503.00" width="9.00" height="16.00" fill="#ffcdd2"/>
<rect x="133.00" y="503.00" width="8.00" height="16.00" fill="#ffcdd2"/>
<rect x="142.00" y="503.00" width="9.00" height="12.00" fill="#ffcdd2"/>
<rect x="152.00" y="503.00" width="9.00" height="9.00" fill="#ffcdd2"/>
<rect x="162.00" y="503.00" width="9.00" height="6.00" fill="#ffcdd2"/>
<rect x="172.00" y="503.00" width="9.00" height="6.00" fill="#ffcdd2"/>
<rect x="182.00" y="503.00" width="9.00" height="4.00" fill="#ffcdd2"/>
<rect x="192.00" y="501.00" width="8.00" height="2.00" fill="#26a69a"/>
<rect x="201.00" y="499.00" width="9.00" height="4.00" fill="#26a69a"/>
<rect x="211.00" y="497.00" width="9.00" height="6.00" fill="#26a69a"/>
<rect x="221.00" y="497.00" width="9.00" height="6.00" fill="#26a69a"/>
<rect x="231.00" y="500.00" width="9.00" height="3.00" fill="#b2dfdb"/>
<rect x="241.00" y="503.00" width="9.00" height="1.00" fill="#ef5350"/>
<rect x="251.00" y="501.00" width="9.00" height="2.00" fill="#26a69a"/>
<rect x="261.00" y="498.00" width="8.00" height="5.00" fill="#26a69a"/>
<rect x="270.00" y="497.00" width="9.00" height="6.00" fill="#26a69a"/>
<rect x="280.00" y="494.00" width="9.00" height="9.00" fill="#26a69a"/>
<rect x="290.00" y="493.00" width="9.00" height="10.00" fill="#26a69a"/>
<rect x="300.00" y="492.00" width="9.00" height="11.00" fill="#26a69a"/>
<rect x="310.00" y="487.00" width="9.00" height="16.00" fill="#26a69a"/>
<rect x="320.00" y="482.00" width="9.00" height="21.00" fill="#26a69a"/>
<rect x="330.00" y="481.00" width="8.00" height="22.00" fill="#26a69a"/>
<rect x="339.00" y="478.00" width="9.00" height="25.00" fill="#26a69a"/>
<rect x="349.00" y="477.00" width="9.00" height="26.00" fill="#26a69a"/>
<rect x="359.00" y="476.00" width="9.00" height="27.00" fill="#26a69a"/>
<rect x="369.00" y="477.00" width="9.00" height="26.00" fill="#b2dfdb"/>
<rect x="379.00" y="479.00" width="9.00" height="24.00" fill="#b2dfdb"/>
<rect x="389.00" y="485.00" width="9.00" height="18.00" fill="#b2dfdb"/>
<rect x="399.00" y="489.00" width="8.00" height="14.00" fill="#b2dfdb"/>
<rect x="408.00" y="491.00" width="9.00" height="12.00" fill="#b2dfdb"/>
<rect x="418.00" y="492.00" width="9.00" height="11.00" fill="#b2dfdb"/>
<rect x="428.00" y="493.00" width="9.00" height="10.00" fill="#b2dfdb"/>
<rect x="438.00" y="495.00" width="9.00" height="8.00" fill="#b2dfdb"/>
<rect x="448.00" y="494.00" width="9.00" height="9.00" fill="#26a69a"/>
<rect x="458.00" y="493.00" width="8.00" height="10.00" fill="#26a69a"/>
<rect x="467.00" y="491.00" width="9.00" height="12.00" fill="#26a69a"/>
<rect x="477.00" y="491.00" width="9.00" height="12.00" fill="#b2dfdb"/>
<rect x="487.00" y="492.00" width="9.00" height="11.00" fill="#b2dfdb"/>
<rect x="497.00" y="494.00" width="9.00" height="9.00" fill="#b2dfdb"/>
<rect x="507.00" y="491.00" width="9.00" height="12.00" fill="#26a69a"/>
<rect x="517.00" y="489.00" width="9.00" height="14.00" fill="#26a69a"/>
<rect x="527.00" y="488.00" width="8.00" height="15.00" fill="#26a69a"/>
<rect x="536.00" y="489.00" width="9.00" height="14.00" fill="#b2dfdb"/>
<rect x="546.00" y="490.00" width="9.00" height="13.00" fill="#b2dfdb"/>
<rect x="556.00" y="492.00" width="9.00" height="11.00" fill="#b2dfdb"/>
<rect x="566.00" y="494.00" width="9.00" height="9.00" fill="#b2dfdb"/>
<rect x="576.00" y="496.00" width="9.00" height="7.00" fill="#b2dfdb"/>
<rect x="586.00" y="497.00" width="9.00" height="6.00" fill="#b2dfdb"/>
<rect x="596.00" y="499.00" width="8.00" height="4.00" fill="#b2dfdb"/>
<rect x="605.00" y="501.00" width="9.00" height="2.00" fill="#b2dfdb"/>
<rect x="615.00" y="503.00" width="9.00" height="2.00" fill="#ef5350"/>
<rect x="625.00" y="503.00" width="9.00" height="3.00" fill="#ef5350"/>
<rect x="635.00" y="503.00" width="9.00" height="5.00" fill="#ef5350"/>
<rect x="645.00" y="503.00" width="9.00" height="6.00" fill="#ef5350"/>
<rect x="655.00" y="503.00" width="9.00" height="8.00" fill="#ef5350"/>
<rect x="665.00" y="503.00" width="8.00" height="10.00" fill="#ef5350"/>
<rect x="674.00" y="503.00" width="9.00" height="14.00" fill="#ef5350"/>
<rect x="684.00" y="503.00" width="9.00" height="16.00" fill="#ef5350"/>
<rect x="694.00" y="503.00" width="9.00" height="19.00" fill="#ef5350"/>
<rect x="704.00" y="503.00" width="9.00" height="22.00" fill="#ef5350"/>
<rect x="714.00" y="503.00" width="9.00" height="20.00" fill="#ffcdd2"/>
<rect x="724.00" y="503.00" width="8.00" height="18.00" fill="#ffcdd2"/>
<rect x="733.00" y="503.00" width="9.00" height="17.00" fill="#ffcdd2"/>
<rect x="743.00" y="503.00" width="9.00" height="11.00" fill="#ffcdd2"/>
<rect x="753.00" y="503.00" width="9.00" height="6.00" fill="#ffcdd2"/>
<rect x="763.00" y="503.00" width="9.00" height="3.00" fill="#ffcdd2"/>
<rect x="773.00" y="503.00" width="9.00" height="2.00" fill="#ffcdd2"/>
<rect x="783.00" y="501.00" width="9.00" height="2.00" fill="#26a69a"/>
<rect x="793.00" y="499.00" width="8.00" height="4.00" fill="#26a69a"/>
<rect x="802.00" y="498.00" width="9.00" height="5.00" fill="#26a69a"/>
<rect x="812.00" y="500.00" width="9.00" height="3.00" fill="#b2dfdb"/>
<rect x="822.00" y="497.00" width="9.00" height="6.00" fill="#26a69a"/>
<rect x="832.00" y="497.00" width="9.00" height="6.00" fill="#26a69a"/>
<rect x="842.00" y="497.00" width="9.00" height="6.00" fill="#b2dfdb"/>
<rect x="852.00" y="498.00" width="9.00" height="5.00" fill="#b2dfdb"/>
<rect x="862.00" y="498.00" width="8.00" height="5.00" fill="#b2dfdb"/>
<rect x="871.00" y="499.00" width="9.00" height="4.00" fill="#b2dfdb"/>
<rect x="881.00" y="499.00" width="9.00" height="4.00" fill="#26a69a"/>
<rect x="891.00" y="497.00" width="9.00" height="6.00" fill="#26a69a"/>
<rect x="901.00" y="496.00" width="9.00" height="7.00" fill="#26a69a"/>
<rect x="911.00" y="497.00" width="9.00" height="6.00" fill="#b2dfdb"/>
<rect x="921.00" y="500.00" width="9.00" height="3.00" fill="#b2dfdb"/>
<rect x="931.00" y="500.00" width="8.00" height="3.00" fill="#b2dfdb"/>
<rect x="940.00" y="503.00" width="9.00" height="3.00" fill="#ef5350"/>
<rect x="950.00" y="503.00" width="9.00" height="2.00" fill="#ffcdd2"/>
<rect x="960.00" y="503.00" width="9.00" height="2.00" fill="#ffcdd2"/>
<rect x="970.00" y="499.00" width="9.00" height="4.00" fill="#26a69a"/>
<rect x="980.00" y="494.00" width="9.00" height="9.00" fill="#26a69a"/>
<rect x="990.00" y="491.00" width="8.00" height="12.00" fill="#26a69a"/>
<rect x="999.00" y="490.00" width="9.00" height="13.00" fill="#26a69a"/>
<rect x="1009.00" y="490.00" width="9.00" height="13.00" fill="#26a69a"/>
<rect x="1019.00" y="491.00" width="9.00" height="12.00" fill="#b2dfdb"/>
<rect x="1029.00" y="493.00" width="9.00" height="10.00" fill="#b2dfdb"/>
<rect x="1039.00" y="496.00" width="9.00" height="7.00" fill="#b2dfdb"/>
<rect x="1049.00" y="497.00" width="9.00" height="6.00" fill="#b2dfdb"/>
<rect x="1059.00" y="499.00" width="8.00" height="4.00" fill="#b2dfdb"/>
<rect x="1068.00" y="501.00" width="9.00" height="2.00" fill="#b2dfdb"/>
<rect x="1078.00" y="503.00" width="9.00" height="1.00" fill="#ef5350"/>
<rect x="1088.00" y="503.00" width="9.00" height="1.00" fill="#ef5350"/>
<rect x="1098.00" y="503.00" width="9.00" height="1.00" fill="#ffcdd2"/>
<rect x="1108.00" y="503.00" width="9.00" height="2.00" fill="#ef5350"/>
<rect x="1118.00" y="503.00" width="9.00" height="4.00" fill="#ef5350"/>
<rect x="1128.00" y="503.00" width="8.00" height="7.00" fill="#ef5350"/>
<rect x="1137.00" y="503.00" width="9.00" height="9.00" fill="#ef5350"/>
<rect x="1147.00" y="503.00" width="9.00" height="7.00" fill="#ffcdd2"/>
<rect x="1157.00" y="503.00" width="9.00" height="3.00" fill="#ffcdd2"/>
<rect x="1167.00" y="503.00" width="9.00" height="5.00" fill="#ef5350"/>
<rect x="1177.00" y="503.00" width="9.00" height="6.00" fill="#ef5350"/>
<rect x="1187.00" y="503.00" width="9.00" height="14.00" fill="#ef5350"/>
<rect x="1197.00" y="503.00" width="8.00" height="21.00" fill="#ef5350"/>
<rect x="1206.00" y="503.00" width="9.00" height="25.00" fill="#ef5350"/>
<rect x="1216.00" y="503.00" width="9.00" height="27.00" fill="#ef5350"/>
<rect x="1226.00" y="503.00" width="9.00" height="28.00" fill="#ef5350"/>
<rect x="1236.00" y="503.00" width="9.00" height="25.00" fill="#ffcdd2"/>
<rect x="1246.00" y="503.00" width="9.00" height="23.00" fill="#ffcdd2"/>
<rect x="1256.00" y="503.00" width="8.00" height="22.00" fill="#ffcdd2"/>
<rect x="1265.00" y="503.00" width="9.00" height="23.00" fill="#ef5350"/>
<rect x="1275.00" y="503.00" width="9.00" height="21.00" fill="#ffcdd2"/>
<rect x="1285.00" y="503.00" width="9.00" height="17.00" fill="#ffcdd2"/>
<rect x="1295.00" y="503.00" width="9.00" height="13.00" fill="#ffcdd2"/>
<rect x="1305.00" y="503.00" width="9.00" height="10.00" fill="#ffcdd2"/>
<rect x="1315.00" y="503.00" width="9.00" height="9.00" fill="#ffcdd2"/>
<rect x="1325.00" y="503.00" width="8.00" height="8.00" fill="#ffcdd2"/>
<rect x="1334.00" y="503.00" width="9.00" height="4.00" fill="#ffcdd2"/>
<polyline fill="none" stroke="#e0564f" stroke-width="1" stroke-linejoin="round" points="-0.5,561.5 8.5,561.9 18.5,561.0 28.5,559.0 38.5,554.2 48.5,548.8 58.5,543.7 68.5,539.4 77.5,537.3 87.5,538.3 97.5,541.7 107.5,546.0 117.5,550.0 127.5,554.2 137.5,558.5 146.5,561.5 156.5,563.8 166.5,565.8 176.5,567.3 186.5,567.7 196.5,567.7 205.5,566.7 215.5,565.4 225.5,564.2 235.5,563.5 245.5,563.5 255.5,563.5 265.5,562.5 274.5,561.3 284.5,559.6 294.5,557.1 304.5,554.6 314.5,551.0 324.5,546.2 334.5,540.8 343.5,534.0 353.5,527.3 363.5,521.0 373.5,514.8 383.5,509.4 393.5,505.6 403.5,501.9 412.5,499.0 422.5,496.5 432.5,494.2 442.5,492.7 452.5,490.8 462.5,488.3 471.5,485.4 481.5,482.5 491.5,480.2 501.5,478.3 511.5,475.8 521.5,472.5 531.5,469.0 540.5,465.8 550.5,462.9 560.5,460.4 570.5,458.5 580.5,456.7 590.5,455.6 600.5,454.8 609.5,454.6 619.5,455.2 629.5,456.2 639.5,457.7 649.5,459.2 659.5,461.5 669.5,464.2 678.5,468.1 688.5,472.1 698.5,477.3 708.5,483.1 718.5,488.5 728.5,493.1 737.5,496.5 747.5,499.0 757.5,500.4 767.5,501.5 777.5,501.9 787.5,501.7 797.5,501.0 806.5,500.0 816.5,499.0 826.5,497.5 836.5,496.2 846.5,495.0 856.5,493.7 866.5,492.7 875.5,492.1 885.5,491.3 895.5,490.2 905.5,488.8 915.5,487.9 925.5,487.3 935.5,486.5 944.5,488.1 954.5,488.5 964.5,488.8 974.5,488.3 984.5,486.3 994.5,483.1 1003.5,481.2 1013.5,478.3 1023.5,475.4 1033.5,473.1 1043.5,471.2 1053.5,470.0 1063.5,469.2 1072.5,469.0 1082.5,469.2 1092.5,469.6 1102.5,470.0 1112.5,470.6 1122.5,471.5 1132.5,473.5 1141.5,475.8 1151.5,477.3 1161.5,478.5 1171.5,479.6 1181.5,480.8 1191.5,484.0 1201.5,489.8 1210.5,496.5 1220.5,503.3 1230.5,509.6 1240.5,515.4 1250.5,520.6 1260.5,525.8 1269.5,532.1 1279.5,537.9 1289.5,542.3 1299.5,546.2 1309.5,548.8 1319.5,551.3 1329.5,553.3 1338.5,554.2"/>
<polyline fill="none" stroke="#222" stroke-width="1" stroke-linejoin="round" points="-0.5,567.3 8.5,561.9 18.5,555.8 28.5,550.0 38.5,539.8 48.5,530.2 58.5,522.1 68.5,523.7 77.5,528.3 87.5,541.3 97.5,555.8 107.5,561.9 117.5,566.7 127.5,570.6 137.5,574.4 146.5,573.8 156.5,572.5 166.5,571.5 176.5,572.9 186.5,571.5 196.5,568.1 205.5,563.8 215.5,560.4 225.5,559.0 235.5,561.0 245.5,564.6 255.5,563.5 265.5,559.0 274.5,556.5 284.5,551.3 294.5,548.1 304.5,545.0 314.5,535.0 324.5,525.8 334.5,519.6 343.5,509.0 353.5,501.3 363.5,495.2 373.5,490.8 383.5,487.1 393.5,488.5 403.5,488.3 412.5,487.9 422.5,486.9 432.5,486.2 442.5,485.6 452.5,483.5 462.5,479.6 471.5,474.8 481.5,471.5 491.5,471.0 501.5,470.4 511.5,465.4 521.5,460.0 531.5,456.2 540.5,452.9 550.5,451.2 560.5,450.2 570.5,450.4 580.5,451.2 590.5,451.2 600.5,452.7 609.5,454.2 619.5,457.7 629.5,460.6 639.5,463.8 649.5,466.2 659.5,469.6 669.5,474.0 678.5,481.2 688.5,486.9 698.5,495.0 708.5,502.9 718.5,506.5 728.5,509.4 737.5,512.5 747.5,510.0 757.5,506.7 767.5,505.6 777.5,505.2 787.5,501.0 797.5,498.5 806.5,496.5 816.5,495.6 826.5,492.9 836.5,491.5 846.5,490.8 856.5,490.2 866.5,489.8 875.5,490.4 885.5,489.0 895.5,486.5 905.5,483.7 915.5,483.7 925.5,485.4 935.5,486.0 944.5,491.3 954.5,490.8 964.5,490.8 974.5,486.0 984.5,478.3 994.5,470.6 1003.5,467.7 1013.5,465.4 1023.5,463.5 1033.5,463.5 1043.5,464.6 1053.5,465.2 1063.5,466.7 1072.5,468.7 1082.5,471.0 1092.5,471.2 1102.5,471.0 1112.5,473.1 1122.5,476.3 1132.5,480.6 1141.5,484.6 1151.5,484.2 1161.5,481.2 1171.5,485.0 1181.5,486.9 1191.5,496.5 1201.5,509.0 1210.5,519.6 1220.5,529.2 1230.5,536.9 1240.5,541.2 1250.5,545.0 1260.5,549.8 1269.5,556.5 1279.5,560.0 1289.5,560.0 1299.5,559.6 1309.5,558.7 1319.5,559.6 1329.5,561.3 1338.5,557.5"/>
<line x1="0" y1="620.5" x2="1722" y2="620.5" stroke="#66a273" stroke-width="1" stroke-dasharray="5 6" stroke-dashoffset="1.9"/>
<line x1="0" y1="755.5" x2="1722" y2="755.5" stroke="#b04a48" stroke-width="1" stroke-dasharray="5 6" stroke-dashoffset="1.9"/>
<polyline fill="none" stroke="#2e2e2e" stroke-width="1" stroke-linejoin="round" points="-0.5,735.6 8.5,724.9 18.5,707.1 28.5,700.0 38.5,664.1 48.5,670.0 58.5,670.0 68.5,712.7 77.5,725.9 87.5,760.3 97.5,769.5 107.5,742.5 117.5,745.3 127.5,746.6 137.5,751.4 146.5,735.4 156.5,735.9 166.5,738.4 176.5,747.8 186.5,737.4 196.5,720.9 205.5,724.2 215.5,725.7 225.5,733.1 235.5,748.9 245.5,756.5 255.5,733.1 265.5,716.5 274.5,723.7 284.5,704.8 294.5,711.4 304.5,711.4 314.5,676.3 324.5,666.9 334.5,673.3 343.5,658.0 353.5,653.7 363.5,650.1 373.5,651.9 383.5,650.9 393.5,683.4 403.5,673.3 412.5,673.8 422.5,666.6 432.5,664.9 442.5,665.6 452.5,654.7 462.5,638.9 471.5,629.5 481.5,637.6 491.5,646.0 501.5,644.2 511.5,619.6 521.5,609.6 531.5,613.7 540.5,611.7 550.5,612.7 560.5,611.2 570.5,614.5 580.5,614.2 590.5,608.1 600.5,620.3 609.5,619.3 619.5,642.7 629.5,640.4 639.5,650.6 649.5,645.0 659.5,664.4 669.5,677.6 678.5,712.7 688.5,716.0 698.5,741.2 708.5,751.7 718.5,715.8 728.5,712.2 737.5,722.1 747.5,678.4 757.5,671.2 767.5,685.5 777.5,689.8 787.5,663.1 797.5,667.4 806.5,667.4 816.5,674.0 826.5,657.7 836.5,663.6 846.5,666.6 856.5,665.9 866.5,664.4 875.5,672.8 885.5,654.7 895.5,645.3 905.5,636.4 915.5,660.5 925.5,677.1 935.5,668.2 944.5,710.7 954.5,671.2 964.5,675.3 974.5,645.3 984.5,630.2 994.5,634.6 1003.5,633.8 1013.5,630.5 1023.5,632.3 1033.5,642.2 1043.5,650.9 1053.5,644.0 1063.5,651.1 1072.5,657.0 1082.5,660.3 1092.5,648.3 1102.5,641.7 1112.5,660.5 1122.5,675.8 1132.5,692.4 1141.5,690.6 1151.5,661.8 1161.5,642.7 1171.5,690.1 1181.5,684.2 1191.5,732.3 1201.5,747.1 1210.5,745.5 1220.5,753.2 1230.5,753.4 1240.5,745.0 1250.5,746.8 1260.5,757.3 1269.5,769.5 1279.5,755.5 1289.5,742.5 1299.5,740.7 1309.5,742.7 1319.5,752.9 1329.5,759.3 1338.5,720.6"/>
<rect x="0.00" y="434.00" width="1768.00" height="1.00" fill="#4c4d55"/>
<rect x="0.00" y="587.00" width="1768.00" height="1.00" fill="#4c4d55"/>
<rect x="0.00" y="786.00" width="1768.00" height="1.00" fill="#4c4d55"/>
<rect x="1722.00" y="0.00" width="1.00" height="814.00" fill="#4c4d55"/>
<rect x="1723.00" y="54.00" width="4.00" height="1.00" fill="#4c4d55"/>
<text x="1732.0" y="58.2" font-size="12" fill="#58595e" font-weight="normal" text-anchor="start" textLength="28.8" lengthAdjust="spacingAndGlyphs">76.50</text>
<rect x="1723.00" y="93.00" width="4.00" height="1.00" fill="#4c4d55"/>
<text x="1732.0" y="97.3" font-size="12" fill="#58595e" font-weight="normal" text-anchor="start" textLength="28.8" lengthAdjust="spacingAndGlyphs">76.00</text>
<rect x="1723.00" y="132.00" width="4.00" height="1.00" fill="#4c4d55"/>
<text x="1732.0" y="136.4" font-size="12" fill="#58595e" font-weight="normal" text-anchor="start" textLength="28.8" lengthAdjust="spacingAndGlyphs">75.50</text>
<rect x="1723.00" y="171.00" width="4.00" height="1.00" fill="#4c4d55"/>
<text x="1732.0" y="175.5" font-size="12" fill="#58595e" font-weight="normal" text-anchor="start" textLength="28.8" lengthAdjust="spacingAndGlyphs">75.00</text>
<rect x="1723.00" y="210.00" width="4.00" height="1.00" fill="#4c4d55"/>
<text x="1732.0" y="214.6" font-size="12" fill="#58595e" font-weight="normal" text-anchor="start" textLength="28.8" lengthAdjust="spacingAndGlyphs">74.50</text>
<rect x="1723.00" y="249.00" width="4.00" height="1.00" fill="#4c4d55"/>
<text x="1732.0" y="253.7" font-size="12" fill="#58595e" font-weight="normal" text-anchor="start" textLength="28.8" lengthAdjust="spacingAndGlyphs">74.00</text>
<rect x="1723.00" y="288.00" width="4.00" height="1.00" fill="#4c4d55"/>
<text x="1732.0" y="292.8" font-size="12" fill="#58595e" font-weight="normal" text-anchor="start" textLength="28.8" lengthAdjust="spacingAndGlyphs">73.50</text>
<rect x="1723.00" y="328.00" width="4.00" height="1.00" fill="#4c4d55"/>
<text x="1732.0" y="331.9" font-size="12" fill="#58595e" font-weight="normal" text-anchor="start" textLength="28.8" lengthAdjust="spacingAndGlyphs">73.00</text>
<rect x="1723.00" y="367.00" width="4.00" height="1.00" fill="#4c4d55"/>
<text x="1732.0" y="371.0" font-size="12" fill="#58595e" font-weight="normal" text-anchor="start" textLength="28.8" lengthAdjust="spacingAndGlyphs">72.50</text>
<rect x="1723.00" y="406.00" width="4.00" height="1.00" fill="#4c4d55"/>
<text x="1732.0" y="410.1" font-size="12" fill="#58595e" font-weight="normal" text-anchor="start" textLength="28.8" lengthAdjust="spacingAndGlyphs">72.00</text>
<rect x="1723.00" y="445.00" width="4.00" height="1.00" fill="#4c4d55"/>
<text x="1732.0" y="449.4" font-size="12" fill="#58595e" font-weight="normal" text-anchor="start">0.50</text>
<rect x="1723.00" y="502.00" width="4.00" height="1.00" fill="#4c4d55"/>
<text x="1732.0" y="506.6" font-size="12" fill="#58595e" font-weight="normal" text-anchor="start">0.00</text>
<rect x="1723.00" y="559.00" width="4.00" height="1.00" fill="#4c4d55"/>
<text x="1732.0" y="563.5" font-size="12" fill="#58595e" font-weight="normal" text-anchor="start" textLength="28.8" lengthAdjust="spacingAndGlyphs">−0.50</text>
<rect x="1723.00" y="620.00" width="4.00" height="1.00" fill="#4c4d55"/>
<text x="1732.0" y="624.5" font-size="12" fill="#58595e" font-weight="normal" text-anchor="start" textLength="28.8" lengthAdjust="spacingAndGlyphs">70.00</text>
<rect x="1723.00" y="654.00" width="4.00" height="1.00" fill="#4c4d55"/>
<text x="1732.0" y="658.4" font-size="12" fill="#58595e" font-weight="normal" text-anchor="start" textLength="28.8" lengthAdjust="spacingAndGlyphs">60.00</text>
<rect x="1723.00" y="688.00" width="4.00" height="1.00" fill="#4c4d55"/>
<text x="1732.0" y="691.9" font-size="12" fill="#58595e" font-weight="normal" text-anchor="start" textLength="28.8" lengthAdjust="spacingAndGlyphs">50.00</text>
<rect x="1723.00" y="721.00" width="4.00" height="1.00" fill="#4c4d55"/>
<text x="1732.0" y="725.4" font-size="12" fill="#58595e" font-weight="normal" text-anchor="start" textLength="28.8" lengthAdjust="spacingAndGlyphs">40.00</text>
<rect x="1723.00" y="755.00" width="4.00" height="1.00" fill="#4c4d55"/>
<text x="1732.0" y="759.4" font-size="12" fill="#58595e" font-weight="normal" text-anchor="start" textLength="28.8" lengthAdjust="spacingAndGlyphs">30.00</text>
<rect x="68.00" y="787.00" width="1.00" height="4.00" fill="#4c4d55"/>
<text x="67.8" y="804.4" font-size="12" fill="#58595e" font-weight="normal" text-anchor="middle">12:00</text>
<rect x="166.00" y="787.00" width="1.00" height="4.00" fill="#4c4d55"/>
<text x="166.5" y="804.4" font-size="12" fill="#58595e" font-weight="normal" text-anchor="middle">8</text>
<rect x="284.00" y="787.00" width="1.00" height="4.00" fill="#4c4d55"/>
<text x="283.8" y="804.4" font-size="12" fill="#58595e" font-weight="normal" text-anchor="middle">12:00</text>
<rect x="383.00" y="787.00" width="1.00" height="4.00" fill="#4c4d55"/>
<text x="383.5" y="804.4" font-size="12" fill="#58595e" font-weight="normal" text-anchor="middle">9</text>
<rect x="501.00" y="787.00" width="1.00" height="4.00" fill="#4c4d55"/>
<text x="500.8" y="804.4" font-size="12" fill="#58595e" font-weight="normal" text-anchor="middle">12:00</text>
<rect x="609.00" y="787.00" width="1.00" height="4.00" fill="#4c4d55"/>
<text x="609.5" y="804.4" font-size="12" fill="#58595e" font-weight="normal" text-anchor="middle">12</text>
<rect x="728.00" y="787.00" width="1.00" height="4.00" fill="#4c4d55"/>
<text x="727.8" y="804.4" font-size="12" fill="#58595e" font-weight="normal" text-anchor="middle">12:00</text>
<rect x="826.00" y="787.00" width="1.00" height="4.00" fill="#4c4d55"/>
<text x="826.5" y="804.4" font-size="12" fill="#58595e" font-weight="normal" text-anchor="middle">13</text>
<rect x="944.00" y="787.00" width="1.00" height="4.00" fill="#4c4d55"/>
<text x="943.8" y="804.4" font-size="12" fill="#58595e" font-weight="normal" text-anchor="middle">12:00</text>
<rect x="1043.00" y="787.00" width="1.00" height="4.00" fill="#4c4d55"/>
<text x="1043.5" y="804.4" font-size="12" fill="#58595e" font-weight="normal" text-anchor="middle">14</text>
<rect x="1161.00" y="787.00" width="1.00" height="4.00" fill="#4c4d55"/>
<text x="1160.8" y="804.4" font-size="12" fill="#58595e" font-weight="normal" text-anchor="middle">12:00</text>
<rect x="1260.00" y="787.00" width="1.00" height="4.00" fill="#4c4d55"/>
<text x="1260.5" y="804.4" font-size="12" fill="#58595e" font-weight="normal" text-anchor="middle">15</text>
<rect x="1378.00" y="787.00" width="1.00" height="4.00" fill="#4c4d55"/>
<text x="1377.8" y="804.4" font-size="12" fill="#58595e" font-weight="normal" text-anchor="middle">12:00</text>
<rect x="1496.00" y="787.00" width="1.00" height="4.00" fill="#4c4d55"/>
<text x="1496.5" y="804.4" font-size="12" fill="#58595e" font-weight="normal" text-anchor="middle">16</text>
<rect x="1614.00" y="787.00" width="1.00" height="4.00" fill="#4c4d55"/>
<text x="1613.8" y="804.4" font-size="12" fill="#58595e" font-weight="normal" text-anchor="middle">12:00</text>
<path d="M1722,224 H1766 Q1768,224 1768,226 V253 Q1768,255 1766,255 H1722 Z" fill="#26a69a"/>
<rect x="1723.00" y="232.00" width="4.00" height="1.00" fill="#d8f3ef"/>
<text x="1732.0" y="236.6" font-size="12" fill="#fff" font-weight="bold" text-anchor="start" textLength="29.0" lengthAdjust="spacingAndGlyphs">74.22</text>
<text x="1732.0" y="250.8" font-size="12" fill="#fff" font-weight="normal" text-anchor="start" textLength="29.0" lengthAdjust="spacingAndGlyphs">17:34</text>
<rect x="1728.5" y="2.5" width="37" height="19.5" rx="3.5" fill="#fff" stroke="#d5d9de"/>
<text x="1733.5" y="15.6" font-size="11.5" fill="#4a4d57" font-weight="normal" text-anchor="start" textLength="19.5" lengthAdjust="spacingAndGlyphs">USD</text>
<path d="M1757.3,10.3 l2.4,2.4 l2.4,-2.4" fill="none" stroke="#4a4d57" stroke-width="1.2"/>
<text x="7.3" y="18.0" font-size="15.5" fill="#505158" font-weight="normal" text-anchor="start" textLength="240.5" lengthAdjust="spacingAndGlyphs">CFDs on Brent Crude Oil · 1h · TVC</text>
<path d="M273,3.5 h11.5 v17.5 h-11.5 a8.75,8.75 0 0 1 0,-17.5z" fill="#d3ede9"/>
<path d="M284.5,3.5 h10.5 a8.75,8.75 0 0 1 0,17.5 h-10.5z" fill="#f8c8dc"/>
<circle cx="274.8" cy="12.3" r="3.9" fill="#159c85"/>
<text x="293.3" y="17.0" font-size="15" fill="#c2185b" font-weight="bold" text-anchor="middle">≈</text>
<text x="319.5" y="18.0" font-size="12.6" fill="#4d4e55" font-weight="normal" text-anchor="start">O</text>
<text x="329.5" y="18.0" font-size="12.6" fill="#26a69a" font-weight="normal" text-anchor="start" textLength="32.0" lengthAdjust="spacingAndGlyphs">73.70</text>
<text x="368.0" y="18.0" font-size="12.6" fill="#4d4e55" font-weight="normal" text-anchor="start">H</text>
<text x="377.5" y="18.0" font-size="12.6" fill="#26a69a" font-weight="normal" text-anchor="start" textLength="31.0" lengthAdjust="spacingAndGlyphs">74.22</text>
<text x="415.7" y="18.0" font-size="12.6" fill="#4d4e55" font-weight="normal" text-anchor="start">L</text>
<text x="422.5" y="18.0" font-size="12.6" fill="#26a69a" font-weight="normal" text-anchor="start" textLength="31.5" lengthAdjust="spacingAndGlyphs">73.52</text>
<text x="460.4" y="18.0" font-size="12.6" fill="#4d4e55" font-weight="normal" text-anchor="start">C</text>
<text x="469.5" y="18.0" font-size="12.6" fill="#26a69a" font-weight="normal" text-anchor="start" textLength="31.0" lengthAdjust="spacingAndGlyphs">74.22</text>
<text x="508.0" y="18.0" font-size="12.6" fill="#26a69a" font-weight="normal" text-anchor="start" textLength="84.3" lengthAdjust="spacingAndGlyphs">+0.50 (+0.68%)</text>
<rect x="6.5" y="28.5" width="47" height="23" rx="4" fill="#fff" stroke="#e0645c"/>
<text x="30.0" y="44.5" font-size="12.6" fill="#d6554b" font-weight="normal" text-anchor="middle" textLength="31.0" lengthAdjust="spacingAndGlyphs">74.22</text>
<text x="62.0" y="44.5" font-size="11" fill="#6a6d78" font-weight="normal" text-anchor="start">4</text>
<rect x="76.5" y="28.5" width="47" height="23" rx="4" fill="#fff" stroke="#3f62b3"/>
<text x="100.0" y="44.5" font-size="12.6" fill="#3f62b3" font-weight="normal" text-anchor="middle" textLength="31.0" lengthAdjust="spacingAndGlyphs">74.26</text>
<text x="7.5" y="72.6" font-size="12.3" fill="#4d4e55" font-weight="normal" text-anchor="start" textLength="17.0" lengthAdjust="spacingAndGlyphs">Vol</text>
<text x="34.0" y="72.6" font-size="12.3" fill="#26a69a" font-weight="normal" text-anchor="start" textLength="32.0" lengthAdjust="spacingAndGlyphs">2.03K</text>
<text x="7.5" y="97.1" font-size="12.3" fill="#4d4e55" font-weight="normal" text-anchor="start" textLength="74.0" lengthAdjust="spacingAndGlyphs">EMA 20 close</text>
<text x="90.5" y="97.1" font-size="12.3" fill="#4fa853" font-weight="normal" text-anchor="start" textLength="31.0" lengthAdjust="spacingAndGlyphs">74.58</text>
<rect x="7.5" y="106.5" width="27.5" height="20" rx="2.5" fill="#fff" stroke="#d5d9de"/>
<path d="M17.3,118.8 l3.9,-3.9 l3.9,3.9" fill="none" stroke="#2a2e39" stroke-width="1.5"/>
<text x="7.3" y="455.2" font-size="12.3" fill="#4d4e55" font-weight="normal" text-anchor="start" textLength="111.0" lengthAdjust="spacingAndGlyphs">MACD 12 26 close 9</text>
<text x="128.0" y="455.2" font-size="12.3" fill="#ffcdd2" font-weight="normal" text-anchor="start" textLength="30.5" lengthAdjust="spacingAndGlyphs">−0.03</text>
<text x="166.3" y="455.2" font-size="12.3" fill="#111" font-weight="normal" text-anchor="start" textLength="30.3" lengthAdjust="spacingAndGlyphs">−0.48</text>
<text x="204.2" y="455.2" font-size="12.3" fill="#e0564f" font-weight="normal" text-anchor="start" textLength="30.3" lengthAdjust="spacingAndGlyphs">−0.45</text>
<text x="7.2" y="608.9" font-size="12.3" fill="#4d4e55" font-weight="normal" text-anchor="start" textLength="68.0" lengthAdjust="spacingAndGlyphs">RSI 14 close</text>
<text x="84.0" y="608.9" font-size="12.3" fill="#2b2b2b" font-weight="normal" text-anchor="start" textLength="31.0" lengthAdjust="spacingAndGlyphs">40.23</text>
<circle cx="21.5" cy="762.9" r="16" fill="#fff" stroke="#e6e7ea" stroke-width="1"/>
<g fill="#2a5bd7"><circle cx="19.8" cy="760.8" r="4.7"/><circle cx="14.3" cy="764.5" r="3.4"/><circle cx="26.4" cy="762.3" r="3.4"/><circle cx="28.7" cy="765.3" r="3.5"/><rect x="12.5" y="762" width="17.5" height="6.8" rx="1.5"/></g>
<path d="M11.4,766.6 L18.6,760.9 L24.3,765.7 L29.8,759.8" fill="none" stroke="#fff" stroke-width="1.2" stroke-linejoin="round"/>
<circle cx="18.6" cy="760.9" r="1.25" fill="#fff"/><circle cx="24.3" cy="765.7" r="1.25" fill="#fff"/>
<g stroke="#30333c" stroke-width="1.15" fill="none"><circle cx="1747.5" cy="800.5" r="5"/><line x1="1752.50" y1="800.50" x2="1754.90" y2="800.50"/><line x1="1751.04" y1="804.04" x2="1752.73" y2="805.73"/><line x1="1747.50" y1="805.50" x2="1747.50" y2="807.90"/><line x1="1743.96" y1="804.04" x2="1742.27" y2="805.73"/><line x1="1742.50" y1="800.50" x2="1740.10" y2="800.50"/><line x1="1743.96" y1="796.96" x2="1742.27" y2="795.27"/><line x1="1747.50" y1="795.50" x2="1747.50" y2="793.10"/><line x1="1751.04" y1="796.96" x2="1752.73" y2="795.27"/></g>
</svg></body></html>
